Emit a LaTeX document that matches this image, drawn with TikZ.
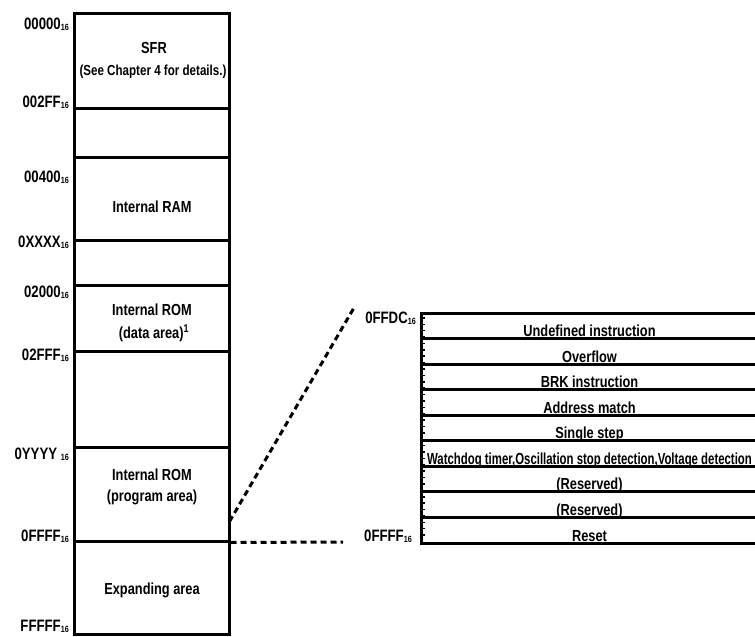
\documentclass[tikz,border=0pt]{standalone}
\usepackage{fontspec}
\setmainfont[FakeStretch=0.8]{Liberation Sans}
\usetikzlibrary{calc}
\newcommand{\sx}[1]{\raisebox{-1pt}{\fontsize{9}{9}\selectfont #1}}
\begin{document}
\begin{tikzpicture}[x=1pt,y=-1pt,
  seg/.style={draw, line width=3pt, rectangle, minimum width=155pt, inner sep=0pt},
  vrow/.style={draw, line width=3pt, rectangle, minimum width=341pt, minimum height=25.56pt, inner sep=0pt},
  addr/.style={font=\bfseries\fontsize{16.5}{16}\selectfont, inner sep=0pt},
  lbl/.style={font=\bfseries\fontsize{16}{19}\selectfont, inner sep=0pt, align=center},
  sub/.style={font=\bfseries\fontsize{14.5}{16}\selectfont, inner sep=0pt, align=center},
  rtxt/.style={font=\bfseries\fontsize{16}{16}\selectfont, inner sep=0pt, anchor=base},
  link/.style={line width=3pt, dash pattern=on 6pt off 4pt},
  tick/.style={line width=1.5pt}]
\useasboundingbox (0,0) rectangle (755,637);
\clip (0,0) rectangle (755,637);
% left memory map
\node[seg, minimum height=95pt] (sfr)  at (151.5,60.5) {};
\node[seg, minimum height=49pt] (gapa) at (151.5,132.5) {};
\node[seg, minimum height=83pt] (ram)  at (151.5,198.5) {};
\node[seg, minimum height=45pt] (gapb) at (151.5,262.5) {};
\node[seg, minimum height=66pt] (drom) at (151.5,318) {};
\node[seg, minimum height=96pt] (gapc) at (151.5,399) {};
\node[seg, minimum height=94pt] (prom) at (151.5,494) {};
\node[seg, minimum height=93pt] (expa) at (151.5,587.5) {};
% texts in the map
\node[lbl] (tsfr) at (154,48) {SFR};
\node[sub] (tsfrb) at (153,72) {(See Chapter 4 for details.)};
\node[lbl] (tram) at (152,207) {Internal RAM};
\node[lbl] (tdrom) at (152,310) {Internal ROM};
\node[lbl] (tdromb) at (154,333) {(data area)\textsuperscript{1}};
\node[lbl] (tprom) at (152,475) {Internal ROM};
\node[lbl] (tpromb) at (152,497) {(program area)};
\node[lbl] (texpa) at (152,590) {Expanding area};
% addresses
\node[addr, anchor=east] (a0) at (69,24) {00000\sx{16}};
\node[addr, anchor=east] (a1) at (69,102) {002FF\sx{16}};
\node[addr, anchor=east] (a2) at (69,177) {00400\sx{16}};
\node[addr, anchor=east] (a3) at (69,242) {0XXXX\sx{16}};
\node[addr, anchor=east] (a4) at (69,292) {02000\sx{16}};
\node[addr, anchor=east] (a5) at (69,355) {02FFF\sx{16}};
\node[addr, anchor=east] (a6) at (69,454) {0YYYY \sx{16}};
\node[addr, anchor=east] (a7) at (69,536) {0FFFF\sx{16}};
\node[addr, anchor=east] (a8) at (69,626) {FFFFF\sx{16}};
% vector table
\foreach \i/\t in {1/Undefined instruction,2/Overflow,3/BRK instruction,4/Address match,5/Single step,6/{\scalebox{0.89}[1]{Watchdog timer,Oscillation stop detection,Voltage detection}},7/(Reserved),8/(Reserved),9/Reset}{
  \node[vrow] (r\i) at (591.5,{313+(\i-0.5)*25.56}) {};
  \node[rtxt] (t\i) at ($(r\i.south)+(-2,-3.5)$) {\t};
}
\foreach \k in {1,...,35}{
  \draw[tick] ($(r1.north west)+(0,\k*6.389)$) -- ++(5,0);
}
\node[addr, anchor=east] (b0) at (416,318) {0FFDC\sx{16}};
\node[addr, anchor=east] (b1) at (412,536) {0FFFF\sx{16}};
% connectors
\coordinate (d2) at (355,306);
\coordinate (h2) at (343,542);
\draw[link] ($(prom.south east)+(-1,-21)$) -- (d2);
\draw[link] (prom.south east) -- (h2);
\end{tikzpicture}
\end{document}
